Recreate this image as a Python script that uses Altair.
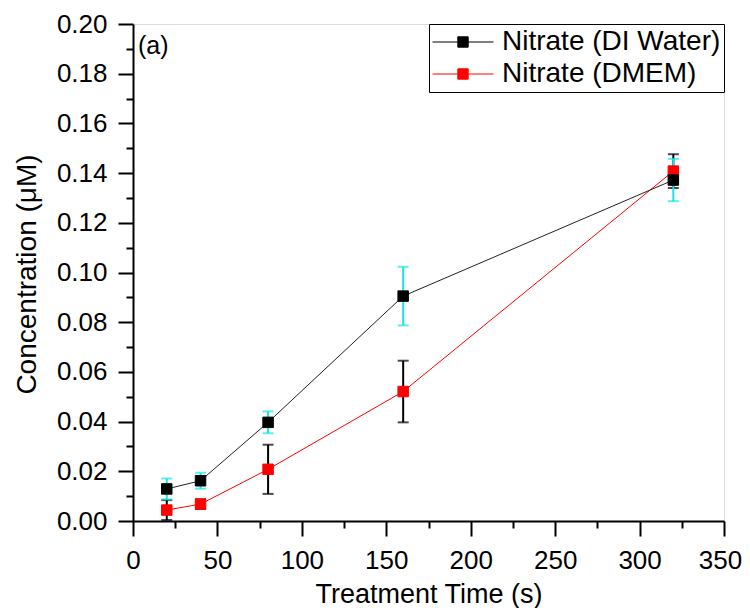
import altair as alt
import pandas as pd

# ---- data ----
times = [20, 40, 80, 160, 320]
di_water = [0.0129, 0.0162, 0.0397, 0.0905, 0.1372]
di_water_err = [0.0042, 0.0032, 0.0044, 0.0118, 0.0085]
dmem = [0.0044, 0.0068, 0.0208, 0.0521, 0.1408]
dmem_err = [0.0040, 0.0019, 0.0099, 0.0124, 0.0068]

series_names = ["Nitrate (DI Water)", "Nitrate (DMEM)"]
series_colors = ["black", "red"]
x_major = [0, 50, 100, 150, 200, 250, 300, 350]
x_minor = [25, 75, 125, 175, 225, 275, 325]
y_major = [0.00, 0.02, 0.04, 0.06, 0.08, 0.10, 0.12, 0.14, 0.16, 0.18, 0.20]
y_minor = [0.01, 0.03, 0.05, 0.07, 0.09, 0.11, 0.13, 0.15, 0.17, 0.19]

FONT = "Liberation Sans"

rows = []
for name, vals, errs in [(series_names[0], di_water, di_water_err),
                         (series_names[1], dmem, dmem_err)]:
    for t, v, e in zip(times, vals, errs):
        rows.append({"series": name, "t": t, "c": v, "lo": v - e, "hi": v + e})
df = pd.DataFrame(rows)
df_di = df[df.series == series_names[0]]
df_dm = df[df.series == series_names[1]]

xscale = alt.Scale(domain=[0, 350], nice=False, zero=False)
yscale = alt.Scale(domain=[0, 0.20], nice=False, zero=False)

x_main = alt.X("t:Q", scale=xscale, axis=alt.Axis(
    values=x_major, title="Treatment Time (s)", orient="bottom",
    tickSize=15, tickWidth=2, domainWidth=2, domainColor="black", tickColor="black",
    labelFontSize=26, labelFont=FONT, labelColor="black", labelPadding=11,
    labelOffset={"condition": {"test": "datum.value == 350", "value": -4}, "value": 0},
    titleFontSize=27, titleFont=FONT, titleFontWeight="normal", titleColor="black",
    titleY=81, titleBaseline="alphabetic", grid=False, labelFlush=False))
y_main = alt.Y("c:Q", scale=yscale, axis=alt.Axis(
    values=y_major, format=".2f", title="Concentration (\u03bcM)", orient="left",
    tickSize=15, tickWidth=2, domainWidth=2, domainColor="black", tickColor="black",
    labelFontSize=26, labelFont=FONT, labelColor="black", labelPadding=11,
    titleFontSize=28, titleFont=FONT, titleFontWeight="normal", titleColor="black",
    titleX=-106, titleY=250, titleBaseline="middle", grid=False, labelFlush=False))

x_plain = alt.X("t:Q", scale=xscale, axis=None)
y_plain = alt.Y("c:Q", scale=yscale, axis=None)

base_dm = alt.Chart(df_dm)
base_di = alt.Chart(df_di)

line_dm = base_dm.mark_line(color="red", strokeWidth=1).encode(x=x_main, y=y_main)
line_di = base_di.mark_line(color="#222222", strokeWidth=1).encode(x=x_plain, y=y_plain)

def errbars(base, color):
    rule = base.mark_rule(color=color, strokeWidth=2).encode(
        x=x_plain, y=alt.Y("lo:Q", scale=yscale, axis=None), y2="hi:Q")
    cap_lo = base.mark_tick(color=color, orient="horizontal", size=11, thickness=2).encode(
        x=x_plain, y=alt.Y("lo:Q", scale=yscale, axis=None))
    cap_hi = base.mark_tick(color=color, orient="horizontal", size=11, thickness=2).encode(
        x=x_plain, y=alt.Y("hi:Q", scale=yscale, axis=None))
    return rule + cap_lo + cap_hi

err_dm = errbars(base_dm, "black")
err_di = errbars(base_di, "#18E4EC")

legend = alt.Legend(
    title=None, orient="top-right", offset=0,
    symbolType="M-1,0L1,0M-0.17,-0.17L0.17,-0.17L0.17,0.17L-0.17,0.17Z",
    symbolSize=3721, symbolStrokeWidth=1, clipHeight=30,
    labelFontSize=28, labelFont=FONT, labelColor="black", labelOffset=8,
    strokeColor="black", fillColor="white", padding=3, rowPadding=2,
    labelLimit=400)

fill_scale = alt.Scale(domain=series_names, range=series_colors)

pts = alt.Chart(df).mark_point(shape="square", filled=True, size=110, opacity=1, strokeWidth=1).encode(
    x=x_plain, y=y_plain,
    fill=alt.Fill("series:N", scale=fill_scale, legend=legend),
    stroke=alt.Stroke("series:N", scale=fill_scale, legend=legend),
    order=alt.Order("series:N", sort="descending"),
)

# minor ticks (separate axes sharing the same scales)
minor_df = pd.DataFrame({"t": [0], "c": [0.0]})
minor = alt.Chart(minor_df).mark_point(opacity=0).encode(
    x=alt.X("t:Q", scale=xscale, axis=alt.Axis(
        values=x_minor, orient="bottom", labels=False, domain=False, title=None,
        tickSize=7, tickWidth=2, tickColor="black", grid=False)),
    y=alt.Y("c:Q", scale=yscale, axis=alt.Axis(
        values=y_minor, orient="left", labels=False, domain=False, title=None,
        tickSize=7, tickWidth=2, tickColor="black", grid=False)),
)

label_a = alt.Chart(pd.DataFrame({"txt": ["(a)"]})).mark_text(
    text="(a)", font=FONT, fontSize=25, align="left", baseline="middle", color="black"
).encode(x=alt.value(5), y=alt.value(22))

chart = alt.layer(
    line_dm, line_di, err_dm, err_di, pts, minor, label_a
).resolve_axis(x="independent", y="independent").properties(
    width=591, height=497,
    autosize=alt.AutoSizeParams(type="none"),
    padding={"left": 125, "top": 16, "right": 18, "bottom": 87},
).configure_view(stroke="black", strokeWidth=2).configure_legend(
    strokeWidth=1.5
).configure(background="white")

chart.save("out.html", embed_options={"renderer": "svg", "actions": False})
